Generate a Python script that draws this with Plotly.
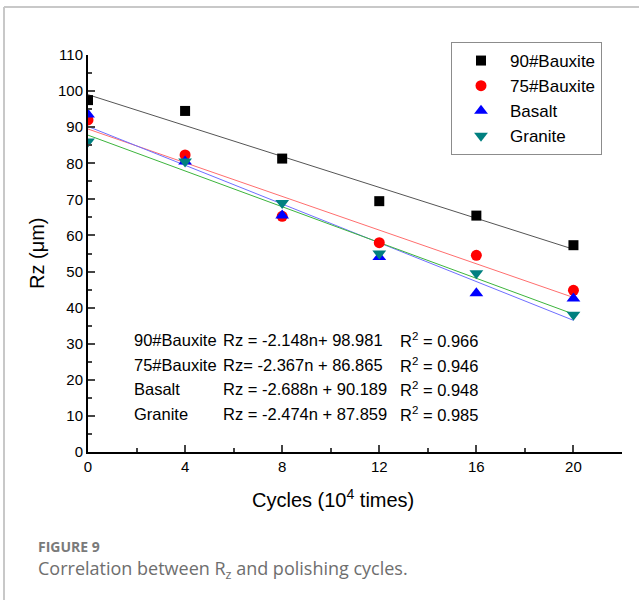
import numpy as np
import plotly.graph_objects as go

# ---- data ----
cycles = [0, 4, 8, 12, 16, 20]
series_names = ["90#Bauxite", "75#Bauxite", "Basalt", "Granite"]
rz_90_bauxite = [97.5, 94.5, 81.3, 69.5, 65.5, 57.3]
rz_75_bauxite = [92.0, 82.3, 65.3, 58.0, 54.5, 44.8]
rz_basalt = [93.5, 80.5, 65.5, 54.0, 44.0, 42.5]
rz_granite = [86.0, 80.5, 69.0, 55.0, 49.5, 38.0]

eq_names = ["90#Bauxite", "75#Bauxite", "Basalt", "Granite"]
eq_bodies = ["Rz = -2.148n+ 98.981", "Rz= -2.367n + 86.865",
             "Rz = -2.688n + 90.189", "Rz = -2.474n + 87.859"]
eq_r2 = ["R<sup>2</sup> = 0.966", "R<sup>2</sup> = 0.946",
         "R<sup>2</sup> = 0.948", "R<sup>2</sup> = 0.985"]
x_ticks = [0, 4, 8, 12, 16, 20]
y_ticks = list(range(0, 111, 10))

# ---- styles ----
W, H = 639, 600
ML, MR, MT, MB = 88, 17, 55, 148
PW, PH = W - ML - MR, H - MT - MB
marker_colors = ["#000000", "#ff0000", "#0000ff", "#008080"]
marker_symbols = ["square", "circle", "triangle-up", "triangle-down"]
marker_sizes = [10, 11, 12, 12]
line_colors = ["#555555", "#ff6e6e", "#6e6eff", "#3cb43c"]
FONT = "Arial, Liberation Sans, sans-serif"
CAP_FONT = "Open Sans, Noto Sans, sans-serif"


def px(X):
    return (X - ML) / PW


def py(Y):
    return (H - MB - Y) / PH


fig = go.Figure()
all_series = [rz_90_bauxite, rz_75_bauxite, rz_basalt, rz_granite]
xs = np.array(cycles, dtype=float)

# fit lines (linear regression of each series)
for i, ys in enumerate(all_series):
    k, b = np.polyfit(xs, np.array(ys), 1)
    xl = [xs.min(), xs.max()]
    fig.add_trace(go.Scatter(x=xl, y=[k * v + b for v in xl], mode="lines",
                             line=dict(color=line_colors[i], width=1),
                             showlegend=False, hoverinfo="skip"))

for i, ys in enumerate(all_series):
    fig.add_trace(go.Scatter(x=cycles, y=ys, mode="markers", name=series_names[i],
                             marker=dict(symbol=marker_symbols[i], size=marker_sizes[i],
                                         color=marker_colors[i], line=dict(width=0))))

row_y = [340.4, 364.8, 389.2, 413.6]
annotations = []
for i in range(4):
    for X, txt in ((132, eq_names[i]), (221, eq_bodies[i]), (398, eq_r2[i])):
        annotations.append(dict(x=px(X), y=py(row_y[i]), xref="paper", yref="paper",
                                text=txt, showarrow=False, xanchor="left", yanchor="middle",
                                font=dict(family=FONT, size=16.5, color="#000000")))

# axis titles
annotations.append(dict(x=px(37), y=py(253), xref="paper", yref="paper", text="Rz (μm)",
                        textangle=-90, showarrow=False, xanchor="center", yanchor="middle",
                        font=dict(family=FONT, size=20, color="#000000")))
annotations.append(dict(x=px(333), y=py(498), xref="paper", yref="paper",
                        text="Cycles (10<sup>4</sup> times)", showarrow=False,
                        xanchor="center", yanchor="middle",
                        font=dict(family=FONT, size=20, color="#000000")))
# caption
annotations.append(dict(x=px(36), y=py(546), xref="paper", yref="paper", text="<b>FIGURE 9</b>",
                        showarrow=False, xanchor="left", yanchor="middle",
                        font=dict(family=CAP_FONT, size=14, color="#7a7a7a")))
annotations.append(dict(x=px(36), y=py(569), xref="paper", yref="paper",
                        text="Correlation between R<sub>z</sub> and polishing cycles.",
                        showarrow=False, xanchor="left", yanchor="middle",
                        font=dict(family=CAP_FONT, size=18, color="#6e6e6e")))

shapes = [
    dict(type="line", xref="paper", yref="paper", x0=px(4), x1=px(4), y0=py(7), y1=py(600),
         line=dict(color="#c8c8c8", width=2)),
    dict(type="line", xref="paper", yref="paper", x0=px(4), x1=px(639), y0=py(7), y1=py(7),
         line=dict(color="#c8c8c8", width=2)),
]

fig.update_layout(
    width=W, height=H, margin=dict(l=ML, r=MR, t=MT, b=MB),
    paper_bgcolor="white", plot_bgcolor="white",
    font=dict(family=FONT, size=15, color="#000000"),
    annotations=annotations, shapes=shapes,
    legend=dict(x=px(451), y=py(42), xanchor="left", yanchor="top",
                bordercolor="#8c8c8c", borderwidth=1, bgcolor="white",
                font=dict(family=FONT, size=17, color="#000000"),
                itemwidth=48),
    xaxis=dict(range=[0, 22], tickvals=x_ticks, ticks="inside", ticklen=7, tickwidth=1.5,
               showline=True, linecolor="#000000", linewidth=2, showgrid=False, zeroline=False,
               tickfont=dict(size=15), minor=dict(dtick=2, ticks="inside", ticklen=4, tickwidth=1.5,
                                                  tick0=0)),
    yaxis=dict(range=[0, 110], tickvals=y_ticks, ticks="inside", ticklen=7, tickwidth=1.5,
               showline=True, linecolor="#000000", linewidth=2, showgrid=False, zeroline=False,
               tickfont=dict(size=15), minor=dict(dtick=5, ticks="inside", ticklen=4, tickwidth=1.5,
                                                  tick0=0)),
)

fig.write_html("out.html", config={"displayModeBar": False},
               post_script="document.body.style.margin='0';document.body.style.overflow='hidden';")
